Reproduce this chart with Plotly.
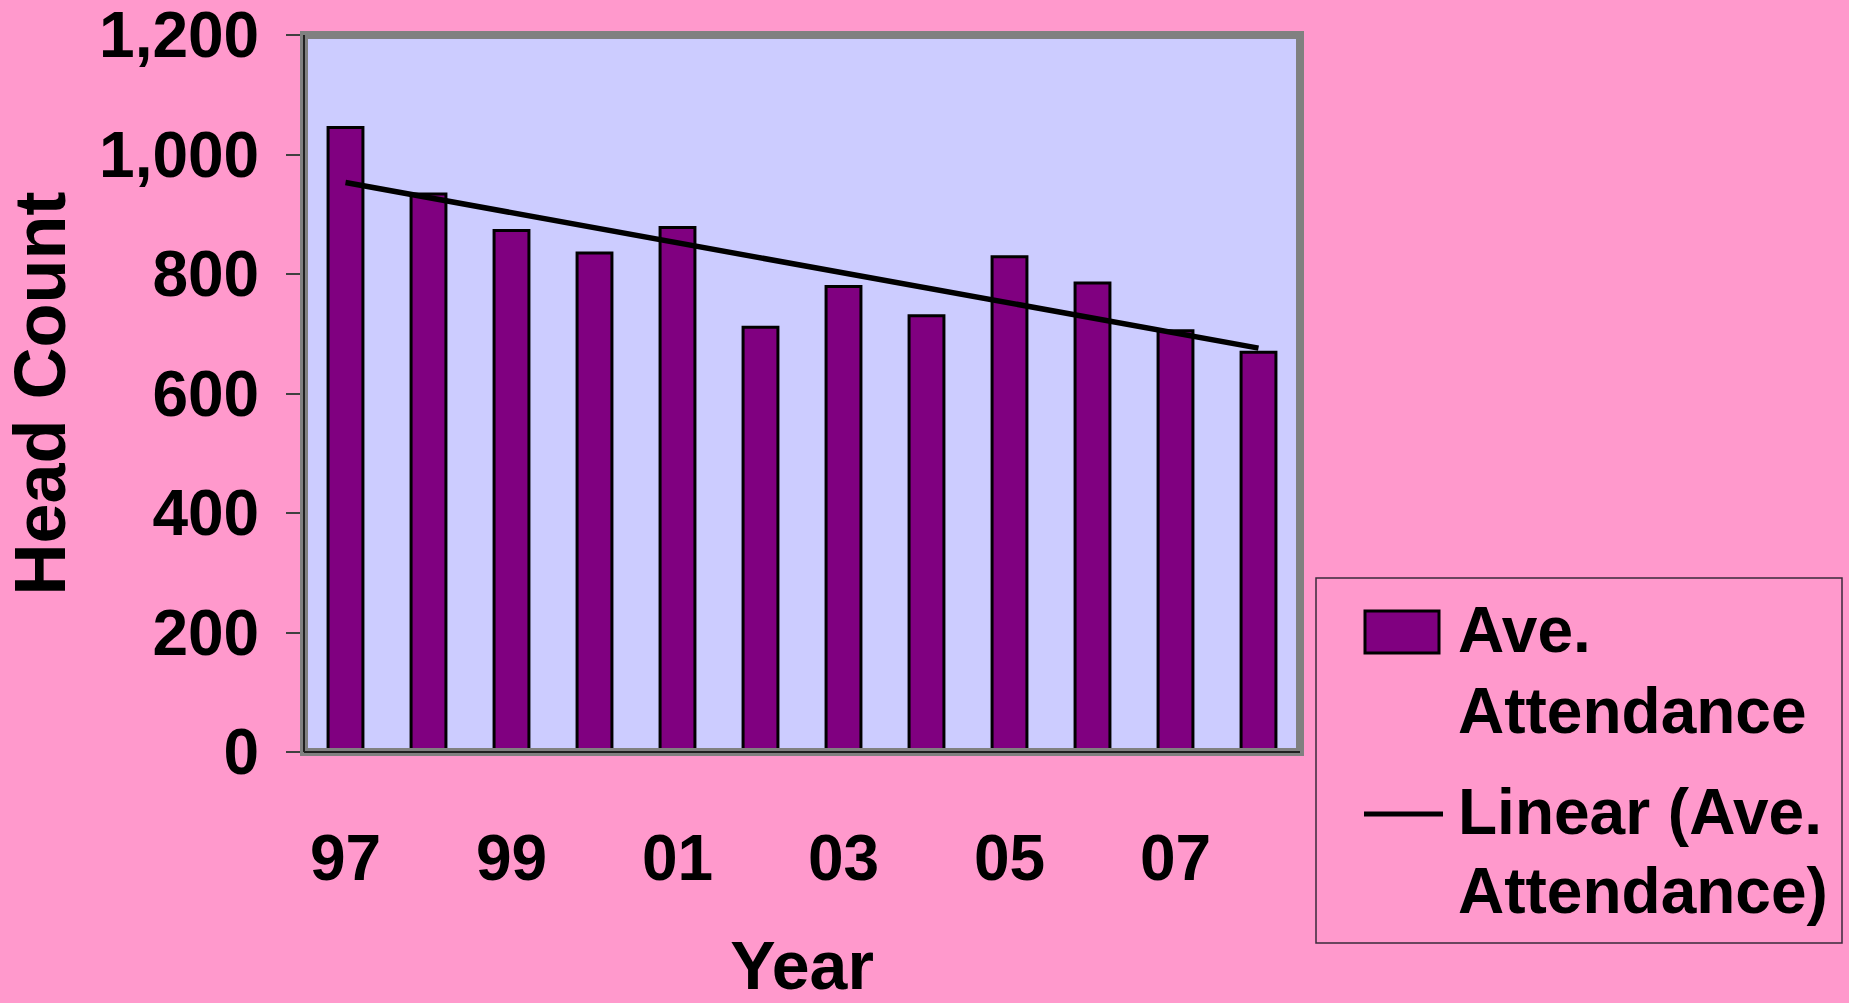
import plotly.graph_objects as go

# ---- data ----
years = ["97", "98", "99", "00", "01", "02", "03", "04", "05", "06", "07", "08"]
attendance = [1045, 934, 873, 835, 878, 711, 779, 730, 829, 785, 705, 669]
trend = [953, 928, 903, 877, 852, 827, 802, 776, 751, 726, 701, 676]
x_tick_labels = ["97", "99", "01", "03", "05", "07"]
y_ticks = [0, 200, 400, 600, 800, 1000, 1200]

W, H = 1849, 1003
L, R, T, B = 304, 1300, 35, 752  # plot area in pixels

def px(x):
    return (x - L) / (R - L)

def py(y):
    return (B - y) / (B - T)

FONT = "Liberation Sans, Arial"
SMALL = 64   # tick labels, legend
BIG = 72     # y title

fig = go.Figure()
fig.add_trace(go.Bar(
    x=years, y=attendance, name="Ave. Attendance",
    marker=dict(color="#800080", line=dict(color="#000000", width=3)),
    showlegend=False,
))
fig.add_trace(go.Scatter(
    x=years, y=trend, mode="lines", name="Linear (Ave. Attendance)",
    line=dict(color="#000000", width=5.5), showlegend=False,
))

shapes = [
    # plot-area frame
    dict(type="rect", xref="paper", yref="paper", x0=0, x1=1, y0=0, y1=1,
         line=dict(color="#808080", width=8), layer="above"),
    dict(type="line", xref="paper", yref="paper", x0=0, x1=0, y0=0, y1=1,
         line=dict(color="#202020", width=2), layer="above"),
    dict(type="line", xref="paper", yref="paper", x0=0, x1=1, y0=0, y1=0,
         line=dict(color="#202020", width=2), layer="above"),
    # legend box
    dict(type="rect", xref="paper", yref="paper",
         x0=px(1316), x1=px(1842), y0=py(943), y1=py(578),
         line=dict(color="#3a2a3a", width=1.5), fillcolor="rgba(0,0,0,0)"),
    dict(type="rect", xref="paper", yref="paper",
         x0=px(1365), x1=px(1439), y0=py(653), y1=py(611),
         line=dict(color="#000000", width=3), fillcolor="#800080"),
    dict(type="line", xref="paper", yref="paper",
         x0=px(1364), x1=px(1443), y0=py(814), y1=py(814),
         line=dict(color="#000000", width=5)),
]

legend_lines = [("Ave.", 630), ("Attendance", 711), ("Linear (Ave.", 812), ("Attendance)", 891)]
annotations = []
for txt, yc in legend_lines:
    annotations.append(dict(
        text=txt, xref="paper", yref="paper", x=px(1456), y=py(yc),
        xanchor="left", yanchor="middle", showarrow=False,
        font=dict(family=FONT, size=SMALL, color="#000000", weight="bold"),
    ))

fig.update_layout(
    width=W, height=H,
    margin=dict(l=L, r=W - R, t=T, b=H - B, autoexpand=False),
    paper_bgcolor="#FF99CC",
    plot_bgcolor="#CCCCFF",
    bargap=0.58,
    showlegend=False,
    shapes=shapes,
    annotations=annotations,
    font=dict(family=FONT, color="#000000"),
)
fig.update_xaxes(
    type="category", range=[-0.5, 11.5],
    tickmode="array", tickvals=x_tick_labels, ticktext=x_tick_labels,
    ticks="", showgrid=False, zeroline=False, showline=False,
    ticklabelstandoff=63, ticklabeloverflow="allow",
    tickfont=dict(family=FONT, size=SMALL, color="#000000", weight="bold"),
    title=dict(text="Year", standoff=53,
               font=dict(family=FONT, size=SMALL + 4, color="#000000", weight="bold")),
)
fig.update_yaxes(
    range=[0, 1200], tickmode="array", tickvals=y_ticks, tickformat=",",
    ticks="outside", ticklen=17, tickwidth=2, tickcolor="#404040",
    showgrid=False, zeroline=False, showline=False,
    ticklabelstandoff=14, ticklabeloverflow="allow",
    tickfont=dict(family=FONT, size=SMALL, color="#000000", weight="bold"),
    title=dict(text="Head Count", standoff=30,
               font=dict(family=FONT, size=BIG, color="#000000", weight="bold")),
)

fig.write_html(
    "out.html",
    config={"displayModeBar": False},
    post_script="document.body.style.margin='0';document.body.style.overflow='hidden';",
)
